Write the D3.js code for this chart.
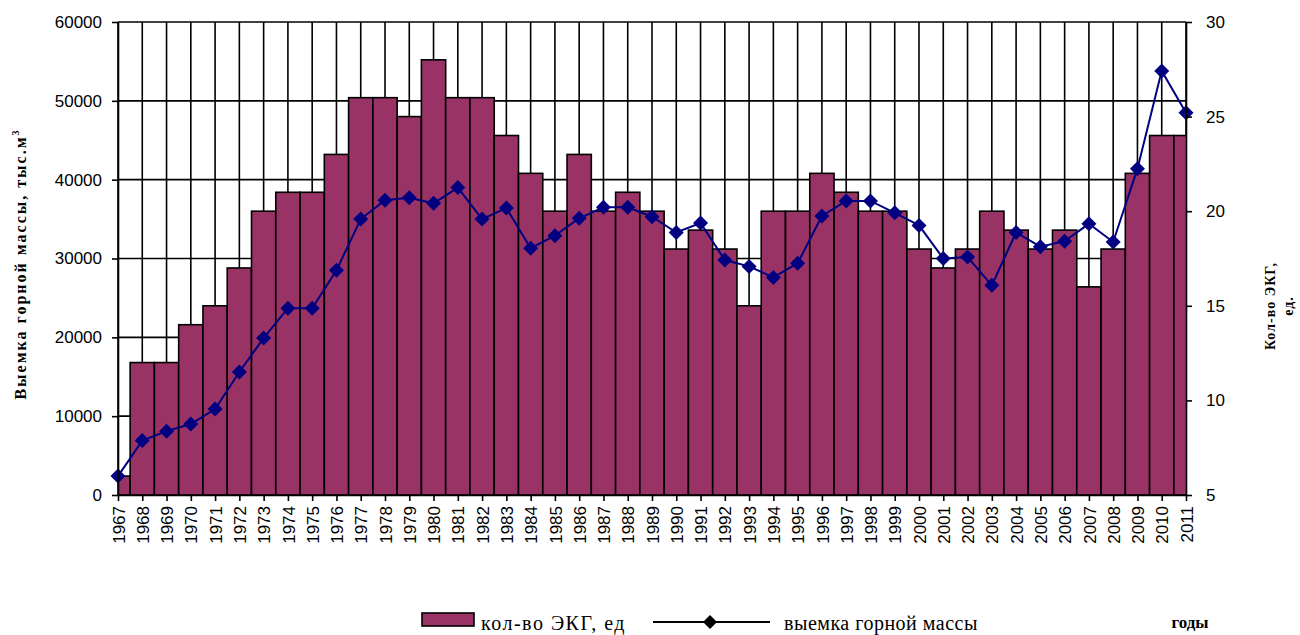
<!DOCTYPE html>
<html>
<head>
<meta charset="utf-8">
<script src="https://cdn.jsdelivr.net/npm/d3@7"></script>
<style>
  body { margin: 0; background: #fff; }
  text { font-family: "Liberation Sans", Arial, sans-serif; }
  .serif { font-family: "Liberation Serif", "Times New Roman", serif; }
</style>
</head>
<body>
<div id="viz-container"></div>
<script>
// years on the x axis
let years = d3.range(1967, 2012);

// кол-во ЭКГ, ед (bars, right axis)
let ekg = [6, 12, 12, 14, 15, 17, 20, 21, 21, 23,
           26, 26, 25, 28, 26, 26, 24, 22, 20, 23,
           20, 21, 20, 18, 19, 18, 15, 20, 20, 22,
           21, 20, 20, 18, 17, 18, 20, 19, 18, 19,
           16, 18, 22, 24, 24];

// выемка горной массы, тыс.м3 (line, left axis)
let vyemka = [2400, 6900, 8100, 9000, 10900, 15600, 19900, 23700, 23700, 28500,
              35000, 37400, 37700, 37000, 39000, 35000, 36400, 31300, 32900, 35100,
              36500, 36500, 35300, 33300, 34500, 29800, 29000, 27600, 29400, 35400,
              37300, 37300, 35800, 34200, 30000, 30200, 26600, 33300, 31500, 32200,
              34400, 32100, 41400, 53800, 48500];

let leftTicks = [0, 10000, 20000, 30000, 40000, 50000, 60000];
let rightTicks = [5, 10, 15, 20, 25, 30];

let W = 1300, H = 635;
let pLeft = 118, pRight = 1186, pTop = 22, pBottom = 495;

let viz = d3.select("#viz-container")
            .append("svg")
              .attr("width", W)
              .attr("height", H);

let x = d3.scalePoint().domain(years).range([pLeft, pRight]);
let step = x.step();
let yL = d3.scaleLinear().domain([0, 60000]).range([pBottom, pTop]);
let yR = d3.scaleLinear().domain([5, 30]).range([pBottom, pTop]);

viz.append("clipPath").attr("id", "plot")
   .append("rect").attr("x", pLeft).attr("y", pTop - 2)
   .attr("width", pRight - pLeft).attr("height", pBottom - pTop + 4);

// gridlines
viz.selectAll(".hgrid").data(leftTicks).enter().append("line")
   .attr("x1", pLeft).attr("x2", pRight)
   .attr("y1", d => yL(d)).attr("y2", d => yL(d))
   .attr("stroke", "#000").attr("stroke-width", 1.6);

viz.selectAll(".vgrid").data(years).enter().append("line")
   .attr("x1", d => x(d)).attr("x2", d => x(d))
   .attr("y1", pTop).attr("y2", pBottom)
   .attr("stroke", "#000").attr("stroke-width", 1.6);

// bars
viz.append("g").attr("clip-path", "url(#plot)")
   .selectAll("rect").data(years).enter().append("rect")
   .attr("x", d => x(d) - step / 2)
   .attr("width", step)
   .attr("y", (d, i) => yR(ekg[i]))
   .attr("height", (d, i) => pBottom - yR(ekg[i]))
   .attr("fill", "#993366")
   .attr("stroke", "#000")
   .attr("stroke-width", 1.6);

// line
let line = d3.line().x((d, i) => x(years[i])).y(d => yL(d));
viz.append("path").datum(vyemka)
   .attr("d", line)
   .attr("fill", "none")
   .attr("stroke", "#000080")
   .attr("stroke-width", 2);

function diamond(s) {
  return "M0," + (-s) + "L" + s + ",0L0," + s + "L" + (-s) + ",0Z";
}

viz.selectAll(".marker").data(vyemka).enter().append("path")
   .attr("d", diamond(7.5))
   .attr("transform", (d, i) => "translate(" + x(years[i]) + "," + yL(d) + ")")
   .attr("fill", "#000080");

// axes
let axL = viz.append("g").attr("transform", "translate(" + pLeft + ",0)")
   .call(d3.axisLeft(yL).tickValues(leftTicks).tickSize(6).tickSizeOuter(0).tickFormat(d3.format("d")));
let axR = viz.append("g").attr("transform", "translate(" + pRight + ",0)")
   .call(d3.axisRight(yR).tickValues(rightTicks).tickSize(6).tickSizeOuter(0));
let axB = viz.append("g").attr("transform", "translate(0," + pBottom + ")")
   .call(d3.axisBottom(x).tickSize(6).tickSizeOuter(0));

[axL, axR, axB].forEach(a => {
  a.selectAll("path").attr("stroke", "#000").attr("stroke-width", 1.6);
  a.selectAll("line").attr("stroke", "#000").attr("stroke-width", 1.6);
  a.selectAll("text").attr("font-size", 17).attr("fill", "#000")
   .attr("font-family", "'Liberation Sans', Arial, sans-serif");
});
axL.selectAll("text").attr("x", -16);
axR.selectAll("text").attr("x", 20);

axB.selectAll("text")
   .attr("font-size", 17)
   .attr("transform", "rotate(-90)")
   .attr("text-anchor", "end")
   .attr("x", -11).attr("y", 0).attr("dy", "0.36em");

// axis titles
let lt = viz.append("text").attr("class", "serif")
   .attr("transform", "translate(26,264) rotate(-90)")
   .attr("text-anchor", "middle")
   .attr("font-size", 16).attr("font-weight", "bold")
   .attr("letter-spacing", 2);
lt.append("tspan").text("Выемка горной массы,  тыс.м");
lt.append("tspan").text("3").attr("font-size", 10).attr("dy", -7);

let rt = viz.append("text").attr("class", "serif")
   .attr("transform", "translate(1275,306) rotate(-90)")
   .attr("text-anchor", "middle")
   .attr("font-size", 14).attr("font-weight", "bold")
   .attr("letter-spacing", 1);
rt.append("tspan").attr("x", 0).attr("dy", 0).text("Кол-во ЭКГ,");
rt.append("tspan").attr("x", 0).attr("dy", 18).text("ед.");

viz.append("text").attr("class", "serif")
   .attr("x", 1190).attr("y", 628).attr("text-anchor", "middle")
   .attr("font-size", 17).attr("font-weight", "bold").text("годы");

// legend
viz.append("rect").attr("x", 422).attr("y", 613).attr("width", 52).attr("height", 13)
   .attr("fill", "#993366").attr("stroke", "#000").attr("stroke-width", 1.6);
viz.append("text").attr("class", "serif").attr("x", 481).attr("y", 630)
   .attr("font-size", 20).attr("letter-spacing", 1.5).text("кол-во ЭКГ, ед");
viz.append("line").attr("x1", 653).attr("x2", 770).attr("y1", 622).attr("y2", 622)
   .attr("stroke", "#000").attr("stroke-width", 2);
viz.append("path").attr("d", diamond(7)).attr("transform", "translate(710,622)").attr("fill", "#000");
viz.append("text").attr("class", "serif").attr("x", 784).attr("y", 630)
   .attr("font-size", 20).attr("letter-spacing", 0.5).text("выемка горной массы");
</script>
</body>
</html>
